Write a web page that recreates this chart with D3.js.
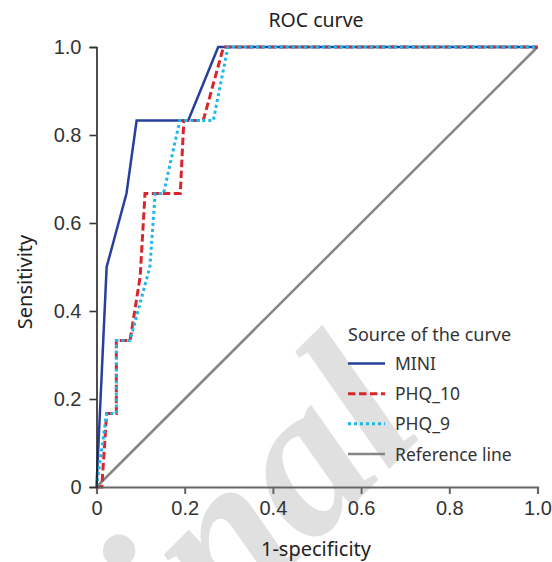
<!DOCTYPE html>
<html>
<head>
<meta charset="utf-8">
<script src="https://cdn.jsdelivr.net/npm/d3@7"></script>
<style>
  body { margin: 0; background: #fff; }
  svg { display: block; }
</style>
</head>
<body>
<svg id="chart"></svg>
<script>
// ROC curves, points as [1-specificity, sensitivity]
const miniPoints = [[0, 0], [0.023, 0.5], [0.068, 0.667], [0.091, 0.833], [0.208, 0.833], [0.276, 1], [1, 1]];
const phq10Points = [[0, 0], [0.012, 0], [0.023, 0.167], [0.045, 0.167], [0.045, 0.333], [0.076, 0.333],
  [0.099, 0.478], [0.11, 0.667], [0.19, 0.667], [0.198, 0.833], [0.242, 0.833], [0.288, 1], [1, 1]];
const phq9Points = [[0, 0], [0.023, 0.167], [0.045, 0.167], [0.045, 0.333], [0.076, 0.333], [0.121, 0.5],
  [0.133, 0.667], [0.152, 0.667], [0.189, 0.833], [0.265, 0.833], [0.298, 1], [1, 1]];
const refPoints = [[0, 0], [1, 1]];

const seriesNames = ["MINI", "PHQ_10", "PHQ_9", "Reference line"];
const tickValues = [0, 0.2, 0.4, 0.6, 0.8, 1.0];
const tickLabels = ["0", "0.2", "0.4", "0.6", "0.8", "1.0"];

const width = 552, height = 562;
const margin = {top: 47, right: 14.5, bottom: 75, left: 96.5};

const svg = d3.select("#chart").attr("width", width).attr("height", height);

const x = d3.scaleLinear().domain([0, 1]).range([margin.left, width - margin.right]);
const y = d3.scaleLinear().domain([0, 1]).range([height - margin.bottom, margin.top]);

// faint watermark behind everything, clipped to the page
svg.append("clipPath").attr("id", "page")
  .append("rect").attr("width", width).attr("height", height);

svg.append("g").attr("clip-path", "url(#page)")
  .append("text")
    .attr("transform", "translate(428,430) rotate(-45)")
    .attr("text-anchor", "end")
    .attr("font-family", "'Liberation Serif', serif")
    .attr("font-style", "italic")
    .attr("font-weight", "bold")
    .attr("font-size", 215)
    .attr("fill", "#e0e0e0")
    .text("Original");

const series = [
  {name: seriesNames[3], points: refPoints, color: "#858585", width: 2.5, dash: null},
  {name: seriesNames[0], points: miniPoints, color: "#27409b", width: 2.5, dash: null},
  {name: seriesNames[1], points: phq10Points, color: "#d9262e", width: 3, dash: "7.5,3.5"},
  {name: seriesNames[2], points: phq9Points, color: "#1fb6ec", width: 3, dash: "3,3"}
];

const line = d3.line().x(d => x(d[0])).y(d => y(d[1]));

svg.append("g").selectAll("path")
  .data(series)
  .join("path")
    .attr("d", d => line(d.points))
    .attr("fill", "none")
    .attr("stroke", d => d.color)
    .attr("stroke-width", d => d.width)
    .attr("stroke-dasharray", d => d.dash);

// axes
const xAxis = svg.append("g")
    .attr("transform", `translate(0,${y(0)})`)
    .call(d3.axisBottom(x).tickValues(tickValues).tickFormat((d, i) => tickLabels[i]).tickSize(7).tickPadding(7));
xAxis.select(".domain").attr("stroke", "#666").attr("stroke-width", 2.2);
xAxis.selectAll(".tick line").attr("stroke", "#666").attr("stroke-width", 2);
xAxis.selectAll("text")
    .attr("font-family", "'Liberation Sans', Arial, sans-serif")
    .attr("font-size", 20).attr("fill", "#333");

const yAxis = svg.append("g")
    .attr("transform", `translate(${x(0)},0)`)
    .call(d3.axisLeft(y).tickValues(tickValues).tickFormat((d, i) => tickLabels[i]).tickSize(7).tickPadding(8));
yAxis.select(".domain").attr("stroke", "#222").attr("stroke-width", 1.6);
yAxis.selectAll(".tick line").attr("stroke", "#333").attr("stroke-width", 1.6);
yAxis.selectAll("text")
    .attr("font-family", "'Liberation Sans', Arial, sans-serif")
    .attr("font-size", 20).attr("fill", "#333");

// title and axis labels
svg.append("text")
    .attr("x", 316).attr("y", 27)
    .attr("text-anchor", "middle")
    .attr("font-family", "'Noto Sans', sans-serif")
    .attr("font-size", 19.5).attr("fill", "#222")
    .text("ROC curve");

svg.append("text")
    .attr("x", 316).attr("y", 556)
    .attr("text-anchor", "middle")
    .attr("font-family", "'Noto Sans', sans-serif")
    .attr("font-size", 20).attr("fill", "#222")
    .text("1-specificity");

svg.append("text")
    .attr("transform", "translate(32,282) rotate(-90)")
    .attr("text-anchor", "middle")
    .attr("font-family", "'Noto Sans', sans-serif")
    .attr("font-size", 20).attr("fill", "#222")
    .text("Sensitivity");

// legend
const legend = svg.append("g").attr("transform", "translate(348,0)");
legend.append("text")
    .attr("x", 0).attr("y", 341)
    .attr("font-family", "'Noto Sans', sans-serif")
    .attr("font-size", 18).attr("fill", "#333")
    .text("Source of the curve");

const legendOrder = [series[1], series[2], series[3], series[0]];
const rowY = d3.scalePoint().domain(legendOrder.map(d => d.name)).range([363.5, 454]);

const rows = legend.selectAll(".row")
  .data(legendOrder)
  .join("g")
    .attr("class", "row")
    .attr("transform", d => `translate(0,${rowY(d.name)})`);

rows.append("line")
    .attr("x1", 0).attr("x2", 37)
    .attr("stroke", d => d.color)
    .attr("stroke-width", d => d.width)
    .attr("stroke-dasharray", d => d.dash);

rows.append("text")
    .attr("x", 47).attr("y", 6.5)
    .attr("font-family", "'Noto Sans', sans-serif")
    .attr("font-size", 17.5).attr("fill", "#333")
    .text(d => d.name);
</script>
</body>
</html>
